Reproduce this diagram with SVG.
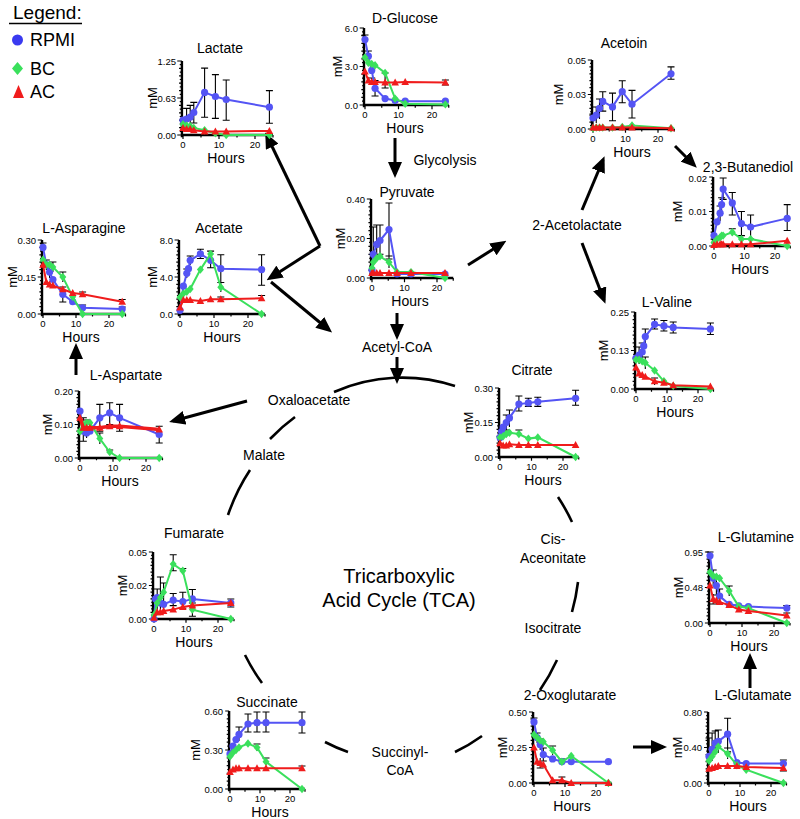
<svg xmlns="http://www.w3.org/2000/svg" xmlns:xlink="http://www.w3.org/1999/xlink" width="800" height="819" viewBox="0 0 800 819">
<style>
text{font-family:"Liberation Sans",Arial,sans-serif;fill:#000}
.t{font-size:14px;text-anchor:middle}
.n{font-size:9.5px;text-anchor:end}
.x{font-size:9.5px;text-anchor:middle}
.m{font-size:13px;text-anchor:middle}
.h{font-size:14px;text-anchor:middle}
.l{font-size:14px;text-anchor:middle}
.eb{fill:none;stroke:#000;stroke-width:1.1}
.b{fill:none;stroke:#5454f4;stroke-width:2;marker-start:url(#mb);marker-mid:url(#mb);marker-end:url(#mb)}
.g{fill:none;stroke:#3ae05c;stroke-width:2;marker-start:url(#mg);marker-mid:url(#mg);marker-end:url(#mg)}
.r{fill:none;stroke:#f01c1c;stroke-width:2;marker-start:url(#mr);marker-mid:url(#mr);marker-end:url(#mr)}
.ar{fill:none;stroke:#000;stroke-width:3;marker-end:url(#ah)}
.arc{fill:none;stroke:#000;stroke-width:2.6}
</style>
<defs>
<marker id="mb" viewBox="-5 -5 10 10" markerWidth="10" markerHeight="10" markerUnits="userSpaceOnUse" orient="0"><circle r="3.6" fill="#5454f4"/></marker>
<marker id="mg" viewBox="-5 -5 10 10" markerWidth="10" markerHeight="10" markerUnits="userSpaceOnUse" orient="0"><path d="M0,-4.2L3.5,0L0,4.2L-3.5,0Z" fill="#3ae05c"/></marker>
<marker id="mr" viewBox="-5 -5 10 10" markerWidth="10" markerHeight="10" markerUnits="userSpaceOnUse" orient="0"><path d="M0,-4L3.8,3L-3.8,3Z" fill="#f01c1c"/></marker>
<marker id="ah" viewBox="0 0 16 14" markerWidth="16" markerHeight="14" refX="12" refY="7" orient="auto" markerUnits="userSpaceOnUse"><path d="M0,0L16,7L0,14Z" fill="#000"/></marker>
<path id="axl" d="M-0.3,0.03V-1M-0.3,0H25" fill="none" stroke="#000" stroke-width="2.4" vector-effect="non-scaling-stroke"/>
<path id="axt" d="M-0.3,0H-1.6M-0.3,-0.5H-1.6M-0.3,-1H-1.6M-0.3,-0.1H-1.1M-0.3,-0.2H-1.1M-0.3,-0.3H-1.1M-0.3,-0.4H-1.1M-0.3,-0.6H-1.1M-0.3,-0.7H-1.1M-0.3,-0.8H-1.1M-0.3,-0.9H-1.1M-0.3,-0.05H-0.9M-0.3,-0.15H-0.9M-0.3,-0.25H-0.9M-0.3,-0.35H-0.9M-0.3,-0.45H-0.9M-0.3,-0.55H-0.9M-0.3,-0.65H-0.9M-0.3,-0.75H-0.9M-0.3,-0.85H-0.9M-0.3,-0.95H-0.9M0,0V0.055M10,0V0.055M20,0V0.055M5,0V0.035M15,0V0.035M25,0V0.035" fill="none" stroke="#000" stroke-width="1.2" vector-effect="non-scaling-stroke"/>
</defs>
<rect width="800" height="819" fill="#fff"/>

<g id="legend">
<text x="13" y="19" font-size="19">Legend:</text>
<line x1="9" y1="23.5" x2="82" y2="23.5" stroke="#000" stroke-width="1.6"/>
<circle cx="17.5" cy="40" r="5.5" fill="#3a3af0"/>
<text x="30" y="46" font-size="18">RPMI</text>
<path d="M17.5,62L23,68.5L17.5,75L12,68.5Z" fill="#3ae05c"/>
<text x="30" y="75" font-size="18">BC</text>
<path d="M18.5,85L24,98L13,98Z" fill="#f01c1c"/>
<text x="30" y="98" font-size="18">AC</text>
</g>

<g id="tca-cycle">
<path class="arc" d="M334,392A180,192 0 0 1 455,386"/>
<path class="arc" d="M558,497A180,192 0 0 1 572,522"/>
<path class="arc" d="M578,582A180,192 0 0 1 572,612"/>
<path class="arc" d="M557,660A180,192 0 0 1 540,690"/>
<path class="arc" d="M482,736A180,192 0 0 1 455,752"/>
<path class="arc" d="M348,752A180,192 0 0 1 325,742"/>
<path class="arc" d="M262,683A180,192 0 0 1 245,655"/>
<path class="arc" d="M228,515A180,192 0 0 1 250,470"/>
<path class="arc" d="M270,439A180,192 0 0 1 295,417"/>
<text x="399" y="583" font-size="20" text-anchor="middle">Tricarboxylic</text>
<text x="399" y="607" font-size="20" text-anchor="middle">Acid Cycle (TCA)</text>
</g>

<g id="labels">
<text class="l" x="445" y="165">Glycolysis</text>
<text class="l" x="397" y="352">Acetyl-CoA</text>
<text class="l" x="577" y="230">2-Acetolactate</text>
<text class="l" x="309" y="405">Oxaloacetate</text>
<text class="l" x="264" y="460">Malate</text>
<text class="l" x="553" y="544">Cis-</text>
<text class="l" x="553" y="563">Aceonitate</text>
<text class="l" x="553" y="633">Isocitrate</text>
<text class="l" x="400" y="757">Succinyl-</text>
<text class="l" x="400" y="775">CoA</text>
</g>

<g id="connectors">
<line class="ar" x1="395" y1="138" x2="395" y2="174"/>
<line class="ar" x1="397" y1="313" x2="397" y2="336"/>
<line class="ar" x1="397" y1="357" x2="397" y2="380"/>
<line class="ar" x1="468" y1="265" x2="503" y2="243"/>
<line class="ar" x1="582" y1="210" x2="603" y2="160"/>
<line class="ar" x1="675" y1="146" x2="694" y2="165"/>
<line class="ar" x1="582" y1="243" x2="604" y2="300"/>
<line class="ar" x1="320" y1="246" x2="267" y2="136"/>
<line class="ar" x1="320" y1="246" x2="270" y2="278"/>
<line class="ar" x1="271" y1="282" x2="329" y2="330"/>
<line class="ar" x1="247" y1="401" x2="173" y2="421"/>
<line class="ar" x1="76" y1="375" x2="76" y2="347"/>
<line class="ar" x1="633" y1="747" x2="663" y2="747"/>
<line class="ar" x1="750" y1="688" x2="750" y2="657"/>
</g>

<g id="lactate" transform="translate(183,135)">
<use href="#axl" transform="scale(3.6,74)"/><use href="#axt" transform="scale(3.6,74)"/>
<text class="t" x="37" y="-82">Lactate</text>
<text class="n" x="-7" y="3.5">0.00</text><text class="n" x="-7" y="-33.5">0.63</text><text class="n" x="-7" y="-70.5">1.25</text>
<text class="x" x="0" y="12.5">0</text><text class="x" x="36" y="12.5">10</text><text class="x" x="72" y="12.5">20</text>
<text class="m" transform="translate(-26.5,-37) rotate(-90)">mM</text>
<text class="h" x="43" y="28">Hours</text>
<path class="eb" d="M21.6,-17.8V-66.9M18.1,-66.9h7M18.1,-17.8h7M32.4,-16.6V-60.4M28.9,-60.4h7M28.9,-16.6h7M43.2,-14.8V-55M39.7,-55h7M39.7,-14.8h7M86.4,-11.8V-44.4M82.9,-44.4h7M82.9,-11.8h7M3.6,-8V-26.6M0.1,-26.6h7M0.1,-8h7M7.2,-8V-29.6M3.7,-29.6h7M10.8,-12V-32.6M7.3,-32.6h7M7.3,-12h7"/>
<polyline class="b" points="0,-14.8 3.6,-16 7.2,-17.8 10.8,-22.5 21.6,-42.6 32.4,-38.5 43.2,-35.5 86.4,-27.8"/>
<polyline class="g" points="0,-10.7 3.6,-9.5 7.2,-8.9 10.8,-7.1 21.6,-4.7 32.4,-1.8 43.2,0 86.4,0"/>
<polyline class="r" points="0,-7.1 3.6,-5.9 7.2,-5.9 10.8,-4.7 21.6,-3.6 32.4,-3.6 43.2,-3.6 86.4,-4.1"/>
</g>

<g id="d-glucose" transform="translate(365,105)">
<use href="#axl" transform="scale(3.35,77)"/><use href="#axt" transform="scale(3.35,77)"/>
<text class="t" x="40" y="-82">D-Glucose</text>
<text class="n" x="-7" y="3.5">0.0</text><text class="n" x="-7" y="-35">3.0</text><text class="n" x="-7" y="-73.5">6.0</text>
<text class="x" x="0" y="12.5">0</text><text class="x" x="33.5" y="12.5">10</text><text class="x" x="67" y="12.5">20</text>
<text class="m" transform="translate(-23.5,-38.5) rotate(-90)">mM</text>
<text class="h" x="40" y="28">Hours</text>
<path class="eb" d="M0,-61V-70M-3.5,-70h7M3.35,-43V-54M-0.15,-54h7M10.05,-9V-24.4M6.55,-24.4h7M6.55,-9h7M20.1,-17V-32M16.6,-32h7M16.6,-17h7M80.4,-20V-25M76.9,-25h7M76.9,-20h7M6.7,-20V-27M3.2,-27h7"/>
<polyline class="b" points="0,-65.4 3.35,-48.8 6.7,-34.6 10.05,-16.7 20.1,-6.4 30.15,-4.5 40.2,-3.8 80.4,-3.8"/>
<polyline class="g" points="0,-47.5 3.35,-42.3 6.7,-41.1 10.05,-39.8 20.1,-32.1 30.15,-6.4 40.2,-1.3 80.4,-0.6"/>
<polyline class="r" points="0,-33.4 3.35,-24.4 6.7,-23.1 10.05,-23.1 20.1,-22.5 30.15,-22.5 40.2,-23.1 80.4,-22.5"/>
</g>

<g id="acetoin" transform="translate(593,129)">
<use href="#axl" transform="scale(3.25,69)"/><use href="#axt" transform="scale(3.25,69)"/>
<text class="t" x="31" y="-81">Acetoin</text>
<text class="n" x="-7" y="3.5">0.00</text><text class="n" x="-7" y="-31">0.03</text><text class="n" x="-7" y="-65.5">0.05</text>
<text class="x" x="0" y="12.5">0</text><text class="x" x="32.5" y="12.5">10</text><text class="x" x="65" y="12.5">20</text>
<text class="m" transform="translate(-30.5,-34.5) rotate(-90)">mM</text>
<text class="h" x="39" y="28">Hours</text>
<path class="eb" d="M9.75,-17.9V-37.3M6.25,-37.3h7M6.25,-17.9h7M19.5,-8.3V-35.9M16,-35.9h7M16,-8.3h7M29.25,-26.2V-48.3M25.75,-48.3h7M25.75,-26.2h7M39,-11V-38.6M35.5,-38.6h7M35.5,-11h7M78,-49.7V-62.1M74.5,-62.1h7M74.5,-49.7h7M3.25,-6V-22M-0.25,-22h7M6.5,-10V-30M3,-30h7M0,-3V-15M-3.5,-15h7"/>
<polyline class="b" points="0,-11 3.25,-13.8 6.5,-20.7 9.75,-27.6 19.5,-22.1 29.25,-37.3 39,-24.8 78,-55.2"/>
<polyline class="g" points="0,-0.7 3.25,-1.4 6.5,-1.4 9.75,-1.4 19.5,-1.4 29.25,-2 39,-3.5 78,-0.7"/>
<polyline class="r" points="0,-1.4 3.25,-1.4 6.5,-1.4 9.75,-1.4 19.5,-1.4 29.25,-1.4 39,-1.4 78,-0.7"/>
</g>

<g id="butanediol" transform="translate(714,246)">
<use href="#axl" transform="scale(3.05,69)"/><use href="#axt" transform="scale(3.05,69)"/>
<text class="t" x="34" y="-74">2,3-Butanediol</text>
<text class="n" x="-7" y="3.5">0.00</text><text class="n" x="-7" y="-31">0.01</text><text class="n" x="-7" y="-64.5">0.02</text>
<text class="x" x="0" y="12.5">0</text><text class="x" x="30.5" y="12.5">10</text><text class="x" x="61" y="12.5">20</text>
<text class="m" transform="translate(-32.5,-34.5) rotate(-90)">mM</text>
<text class="h" x="36" y="28">Hours</text>
<path class="eb" d="M9.15,-46.6V-68M5.65,-68h7M5.65,-46.6h7M18.3,-31V-53.5M14.8,-53.5h7M14.8,-31h7M27.45,-10.4V-34.5M23.95,-34.5h7M23.95,-10.4h7M36.6,-6.9V-31M33.1,-31h7M33.1,-6.9h7M73.2,-15.5V-41.4M69.7,-41.4h7M69.7,-15.5h7M7.6,-34.5V-48.3M4.1,-48.3h7M6.1,-25V-40M2.6,-40h7M18.3,-10.4V-17.3M14.8,-17.3h7"/>
<polyline class="b" points="0,-10.4 3.05,-24.2 6.1,-32.8 7.6,-41.4 9.15,-56.9 18.3,-43.1 27.45,-22.4 36.6,-19 73.2,-27.6"/>
<polyline class="g" points="0,-3.5 3.05,-6.9 6.1,-8.6 7.6,-10.4 9.15,-10.4 18.3,-13.8 27.45,-6.9 36.6,-6.9 73.2,0"/>
<polyline class="r" points="0,-1 3.05,-1.7 6.1,-1.7 7.6,-1.7 9.15,-1.7 18.3,-1.7 27.45,-1.7 36.6,-1.7 73.2,-5.2"/>
</g>

<g id="l-asparagine" transform="translate(43,314)">
<use href="#axl" transform="scale(3.3,74)"/><use href="#axt" transform="scale(3.3,74)"/>
<text class="t" x="41" y="-81">L-Asparagine</text>
<text class="n" x="-7" y="3.5">0.00</text><text class="n" x="-7" y="-33.5">0.15</text><text class="n" x="-7" y="-70.5">0.30</text>
<text class="x" x="0" y="12.5">0</text><text class="x" x="33" y="12.5">10</text><text class="x" x="66" y="12.5">20</text>
<text class="m" transform="translate(-26.5,-37) rotate(-90)">mM</text>
<text class="h" x="38" y="28">Hours</text>
<path class="eb" d="M0,-62V-71M-3.5,-71h7M19.8,-12V-27M16.3,-27h7M16.3,-12h7M9.9,-42V-52M6.4,-52h7M19.8,-32V-42M16.3,-42h7M39.6,-3.5V-9M36.1,-9h7M39.6,-17V-22M36.1,-22h7M79.2,-10V-14.5M75.7,-14.5h7M79.2,-2.5V-7M75.7,-7h7M3.3,-44V-54M-0.2,-54h7M6.6,-36V-48M3.1,-48h7"/>
<polyline class="b" points="0,-66.6 3.3,-49.3 6.6,-41.9 9.9,-34.5 19.8,-19.7 29.7,-12.3 39.6,-6.2 79.2,-4.9"/>
<polyline class="g" points="0,-54.3 3.3,-49.3 6.6,-49.3 9.9,-46.9 19.8,-37 29.7,-17.3 39.6,0 79.2,0"/>
<polyline class="r" points="0,-49.3 3.3,-32.1 6.6,-29.6 9.9,-28.4 19.8,-24.7 29.7,-21 39.6,-19.7 79.2,-12.3"/>
</g>

<g id="acetate" transform="translate(180,314)">
<use href="#axl" transform="scale(3.4,74)"/><use href="#axt" transform="scale(3.4,74)"/>
<text class="t" x="39" y="-81">Acetate</text>
<text class="n" x="-7" y="3.5">0.0</text><text class="n" x="-7" y="-33.5">4.0</text><text class="n" x="-7" y="-70.5">8.0</text>
<text class="x" x="0" y="12.5">0</text><text class="x" x="34" y="12.5">10</text><text class="x" x="68" y="12.5">20</text>
<text class="m" transform="translate(-23.5,-37) rotate(-90)">mM</text>
<text class="h" x="42" y="28">Hours</text>
<path class="eb" d="M20.4,-55.5V-64.8M16.9,-64.8h7M16.9,-55.5h7M30.6,-46.3V-62.9M27.1,-62.9h7M27.1,-46.3h7M40.8,-31.5V-59.2M37.3,-59.2h7M37.3,-31.5h7M81.6,-28.7V-59.2M78.1,-59.2h7M78.1,-28.7h7M10.2,-49V-58M6.7,-58h7M6.8,-36V-45M3.3,-45h7M40.8,-22V-31M81.6,-13V-18.5M78.1,-18.5h7M40.8,-12.5V-17M37.3,-17h7"/>
<polyline class="b" points="0,-3.7 3.4,-27.8 6.8,-40.7 8.5,-45.3 10.2,-53.7 20.4,-60.1 30.6,-53.7 40.8,-45.3 81.6,-44.4"/>
<polyline class="g" points="0,-16.7 3.4,-20.4 6.8,-22.2 10.2,-25 20.4,-44.4 30.6,-60.1 40.8,-26.8 81.6,0"/>
<polyline class="r" points="0,-6.5 3.4,-13.9 6.8,-13.9 10.2,-13.9 20.4,-13 30.6,-14.8 40.8,-14.8 81.6,-15.7"/>
</g>

<g id="pyruvate" transform="translate(372,278)">
<use href="#axl" transform="scale(3.25,79)"/><use href="#axt" transform="scale(3.25,79)"/>
<text class="t" x="35" y="-81">Pyruvate</text>
<text class="n" x="-7" y="3.5">0.00</text><text class="n" x="-7" y="-36">0.20</text><text class="n" x="-7" y="-75.5">0.40</text>
<text class="x" x="0" y="12.5">0</text><text class="x" x="32.5" y="12.5">10</text><text class="x" x="65" y="12.5">20</text>
<text class="m" transform="translate(-27.5,-39.5) rotate(-90)">mM</text>
<text class="h" x="38" y="28">Hours</text>
<path class="eb" d="M17,-19V-75M13.5,-75h7M13.5,-19h7M8,-23.7V-53M4.5,-53h7M4.5,-23.7h7M4.7,-19.8V-53M1.2,-53h7M1.2,-19.8h7M1.3,-15.8V-51M-2.2,-51h7M17,-10V-22M13.5,-22h7"/>
<polyline class="b" points="0,-7.9 1.3,-23.7 4.7,-33.6 8,-37.5 17,-48.4 25,-4 39,-4 73,-4"/>
<polyline class="g" points="0,-9.9 1.3,-15.8 4.7,-19.8 8,-21.7 17,-15.8 25,-5.9 39,-5.9 73,0"/>
<polyline class="r" points="0,-4.9 1.3,-4.9 4.7,-4.9 8,-4.9 17,-4.9 25,-4.9 39,-4.9 73,-4.9"/>
</g>

<g id="l-valine" transform="translate(636,389)">
<use href="#axl" transform="scale(3.1,77)"/><use href="#axt" transform="scale(3.1,77)"/>
<text class="t" x="31" y="-82">L-Valine</text>
<text class="n" x="-7" y="3.5">0.00</text><text class="n" x="-7" y="-35">0.13</text><text class="n" x="-7" y="-73.5">0.25</text>
<text class="x" x="0" y="12.5">0</text><text class="x" x="31" y="12.5">10</text><text class="x" x="62" y="12.5">20</text>
<text class="m" transform="translate(-28.5,-38.5) rotate(-90)">mM</text>
<text class="h" x="39" y="28">Hours</text>
<path class="eb" d="M18.6,-60V-70M15.1,-70h7M15.1,-60h7M27.9,-58V-68.5M24.4,-68.5h7M24.4,-58h7M37.2,-56V-67M33.7,-67h7M33.7,-56h7M74.4,-54.5V-66M70.9,-66h7M70.9,-54.5h7M9.3,-45V-60M5.8,-60h7M6.2,-28V-46M2.7,-46h7M3.1,-25V-42M-0.4,-42h7M18.6,-4V-11M15.1,-11h7M9.3,-20V-32M5.8,-32h7"/>
<polyline class="b" points="0,-30.8 3.1,-33.9 6.2,-37 7.75,-43.1 9.3,-52.4 18.6,-64.7 27.9,-63.1 37.2,-61.6 74.4,-60.1"/>
<polyline class="g" points="0,-29.3 3.1,-29.3 6.2,-27.7 9.3,-26.2 18.6,-18.5 27.9,-7.7 37.2,-3.1 74.4,0"/>
<polyline class="r" points="0,-21.6 3.1,-15.4 6.2,-13.9 9.3,-12.3 18.6,-7.7 27.9,-6.2 37.2,-3.7 74.4,-2.5"/>
</g>

<g id="l-aspartate" transform="translate(80,458)">
<use href="#axl" transform="scale(3.3,67)"/><use href="#axt" transform="scale(3.3,67)"/>
<text class="t" x="46" y="-78">L-Aspartate</text>
<text class="n" x="-7" y="3.5">0.00</text><text class="n" x="-7" y="-30">0.10</text><text class="n" x="-7" y="-63.5">0.20</text>
<text class="x" x="0" y="12.5">0</text><text class="x" x="33" y="12.5">10</text><text class="x" x="66" y="12.5">20</text>
<text class="m" transform="translate(-28.5,-33.5) rotate(-90)">mM</text>
<text class="h" x="40" y="28">Hours</text>
<path class="eb" d="M19.8,-26.8V-53.6M16.3,-53.6h7M16.3,-26.8h7M29.7,-33.5V-55.3M26.2,-55.3h7M26.2,-33.5h7M39.6,-26.8V-53.6M36.1,-53.6h7M36.1,-26.8h7M79.2,-15V-31.8M75.7,-31.8h7M75.7,-15h7M3.3,-16.8V-40.2M-0.2,-40.2h7M-0.2,-16.8h7M6.6,-20V-38M3.1,-38h7M19.8,-14V-25M16.3,-25h7M29.7,-4V-8M26.2,-8h7"/>
<polyline class="b" points="0,-46.9 3.3,-26.8 6.6,-25.1 9.9,-26.8 19.8,-40.2 29.7,-45.2 39.6,-40.2 79.2,-23.5"/>
<polyline class="g" points="0,-26.8 3.3,-33.5 6.6,-35.2 9.9,-35.2 19.8,-19.4 29.7,-6 39.6,0 79.2,0"/>
<polyline class="r" style="stroke-width:3.5" points="0,-40.2 3.3,-30.2 6.6,-30.2 9.9,-30.2 19.8,-30.2 29.7,-31.8 39.6,-31.8 79.2,-28.5"/>
</g>

<g id="citrate" transform="translate(500,457)">
<use href="#axl" transform="scale(3.15,69)"/><use href="#axt" transform="scale(3.15,69)"/>
<text class="t" x="32" y="-82">Citrate</text>
<text class="n" x="-7" y="3.5">0.00</text><text class="n" x="-7" y="-31">0.15</text><text class="n" x="-7" y="-65.5">0.30</text>
<text class="x" x="0" y="12.5">0</text><text class="x" x="31.5" y="12.5">10</text><text class="x" x="63" y="12.5">20</text>
<text class="m" transform="translate(-27.5,-34.5) rotate(-90)">mM</text>
<text class="h" x="43" y="28">Hours</text>
<path class="eb" d="M18.9,-46V-61M15.4,-61h7M15.4,-46h7M28.35,-50.6V-58.7M24.85,-58.7h7M24.85,-50.6h7M37.8,-50.6V-59.8M34.3,-59.8h7M34.3,-50.6h7M75.6,-51.8V-66.7M72.1,-66.7h7M72.1,-51.8h7M6.3,-27V-42M2.8,-42h7M9.45,-30V-47M5.95,-47h7M6.3,-20V-27M2.8,-27h7M18.9,-20V-27M15.4,-27h7"/>
<polyline class="b" points="0,-19.6 1.6,-25.3 3.15,-29.9 6.3,-34.5 9.45,-39.1 18.9,-52.9 28.35,-54.1 37.8,-55.2 75.6,-58.7"/>
<polyline class="g" points="0,-19.6 3.15,-20.7 6.3,-23 9.45,-24.2 18.9,-23 28.35,-18.4 37.8,-19.6 75.6,0"/>
<polyline class="r" points="0,-13.8 3.15,-11.5 6.3,-11.5 9.45,-12.7 18.9,-12 28.35,-12 37.8,-12 75.6,-12"/>
</g>

<g id="fumarate" transform="translate(154,619)">
<use href="#axl" transform="scale(3.2,67)"/><use href="#axt" transform="scale(3.2,67)"/>
<text class="t" x="40" y="-81">Fumarate</text>
<text class="n" x="-7" y="3.5">0.00</text><text class="n" x="-7" y="-30">0.02</text><text class="n" x="-7" y="-63.5">0.05</text>
<text class="x" x="0" y="12.5">0</text><text class="x" x="32" y="12.5">10</text><text class="x" x="64" y="12.5">20</text>
<text class="m" transform="translate(-27.5,-33.5) rotate(-90)">mM</text>
<text class="h" x="40" y="28">Hours</text>
<path class="eb" d="M19.2,-13.4V-25.5M15.7,-25.5h7M15.7,-13.4h7M28.8,-10.7V-26.8M25.3,-26.8h7M25.3,-10.7h7M38.4,-13.4V-29.5M34.9,-29.5h7M34.9,-13.4h7M76.8,-12V-20M73.3,-20h7M73.3,-12h7M19.2,-48.2V-64.3M15.7,-64.3h7M15.7,-48.2h7M28.8,-46V-50.5M25.3,-50.5h7M38.4,-2.7V-16M34.9,-16h7M34.9,-2.7h7M3.2,-4V-30M-0.3,-30h7M6.4,-8V-42M2.9,-42h7M9.6,-10V-36M6.1,-36h7"/>
<polyline class="b" points="0,0 1.6,-20.1 3.2,-21.4 6.4,-16.1 9.6,-14.7 19.2,-18.8 28.8,-17.4 38.4,-20.1 76.8,-16.1"/>
<polyline class="g" points="0,-4 3.2,-16.1 6.4,-21.4 9.6,-26.8 19.2,-54.9 28.8,-48.2 38.4,-9.4 76.8,0"/>
<polyline class="r" points="0,-1.3 3.2,-6.7 6.4,-6.7 9.6,-8 19.2,-9.4 28.8,-12.1 38.4,-13.4 76.8,-16.1"/>
</g>

<g id="l-glutamine" transform="translate(710,623)">
<use href="#axl" transform="scale(3.2,71)"/><use href="#axt" transform="scale(3.2,71)"/>
<text class="t" x="46" y="-81">L-Glutamine</text>
<text class="n" x="-7" y="3.5">0.00</text><text class="n" x="-7" y="-32">0.48</text><text class="n" x="-7" y="-67.5">0.95</text>
<text class="x" x="0" y="12.5">0</text><text class="x" x="32" y="12.5">10</text><text class="x" x="64" y="12.5">20</text>
<text class="m" transform="translate(-27.5,-35.5) rotate(-90)">mM</text>
<text class="h" x="39" y="28">Hours</text>
<path class="eb" d="M0,-63V-71M-3.5,-71h7M3.2,-37V-53M-0.3,-53h7M6.4,-28V-47M2.9,-47h7M2.9,-28h7M9.6,-20V-34M6.1,-34h7M6.1,-20h7M19.2,-27V-37M15.7,-37h7M3.2,-19V-29M-0.3,-19h7M76.8,-12.5V-17.5M73.3,-17.5h7M76.8,-5V-10M73.3,-10h7"/>
<polyline class="b" points="0,-67.2 3.2,-44.8 6.4,-37.4 9.6,-26.9 19.2,-18.7 28.8,-17.2 38.4,-16.4 76.8,-14.9"/>
<polyline class="g" points="0,-50.8 3.2,-47.1 6.4,-46.3 9.6,-44.8 19.2,-32.1 28.8,-16.4 38.4,-14.9 76.8,0"/>
<polyline class="r" points="0,-37.4 3.2,-23.9 6.4,-22.4 9.6,-20.9 19.2,-17.9 28.8,-13.4 38.4,-12 76.8,-7.5"/>
</g>

<g id="succinate" transform="translate(230,789)">
<use href="#axl" transform="scale(3,78)"/><use href="#axt" transform="scale(3,78)"/>
<text class="t" x="37" y="-82">Succinate</text>
<text class="n" x="-7" y="3.5">0.00</text><text class="n" x="-7" y="-35.5">0.30</text><text class="n" x="-7" y="-74.5">0.60</text>
<text class="x" x="0" y="12.5">0</text><text class="x" x="30" y="12.5">10</text><text class="x" x="60" y="12.5">20</text>
<text class="m" transform="translate(-30,-39) rotate(-90)">mM</text>
<text class="h" x="40" y="28">Hours</text>
<path class="eb" d="M18,-57V-75M14.5,-75h7M14.5,-57h7M27,-57V-77M23.5,-77h7M23.5,-57h7M36,-57V-77M32.5,-77h7M32.5,-57h7M72,-56V-77M68.5,-77h7M68.5,-56h7M9,-48V-62M5.5,-62h7M36,-24V-31M32.5,-31h7M27,-38V-45M23.5,-45h7M72,-18V-23M68.5,-23h7"/>
<polyline class="b" points="0,-35.1 3,-42.9 6,-49.4 9,-54.6 18,-65 27,-66.3 36,-66.3 72,-66.3"/>
<polyline class="g" points="0,-32.5 3,-36.4 6,-39 9,-41.6 18,-45.5 27,-41.6 36,-27.3 72,0"/>
<polyline class="r" points="0,-16.9 3,-19.5 6,-20.8 9,-20.8 18,-20.8 27,-20.8 36,-20.8 72,-20.8"/>
</g>

<g id="oxoglutarate" transform="translate(534,783)">
<use href="#axl" transform="scale(3.1,71)"/><use href="#axt" transform="scale(3.1,71)"/>
<text class="t" x="36" y="-83">2-Oxoglutarate</text>
<text class="n" x="-7" y="3.5">0.00</text><text class="n" x="-7" y="-32">0.25</text><text class="n" x="-7" y="-67.5">0.50</text>
<text class="x" x="0" y="12.5">0</text><text class="x" x="31" y="12.5">10</text><text class="x" x="62" y="12.5">20</text>
<text class="m" transform="translate(-27.5,-35.5) rotate(-90)">mM</text>
<text class="h" x="38" y="28">Hours</text>
<path class="eb" d="M0,-57V-65M-3.5,-65h7M3.1,-40V-50M-0.4,-50h7M6.2,-33V-44M2.7,-44h7M9.3,-22V-35M5.8,-35h7M5.8,-22h7M18.6,-28V-37M15.1,-37h7M27.9,-18V-24M24.4,-24h7M27.9,-1V-6M24.4,-6h7M6.2,-15V-25M2.7,-15h7"/>
<polyline class="b" points="0,-61.1 3.1,-45.4 6.2,-38.3 9.3,-28.4 18.6,-24.1 27.9,-21.3 37.2,-21.3 74.4,-21.3"/>
<polyline class="g" points="0,-48.3 3.1,-45.4 6.2,-42.6 9.3,-41.2 18.6,-32.7 27.9,-21.3 37.2,-27 74.4,0"/>
<polyline class="r" points="0,-35.5 3.1,-21.3 6.2,-19.9 9.3,-18.5 18.6,-2.8 27.9,-2.8 37.2,0 74.4,0"/>
</g>

<g id="l-glutamate" transform="translate(709,783)">
<use href="#axl" transform="scale(3.1,71)"/><use href="#axt" transform="scale(3.1,71)"/>
<text class="t" x="44" y="-83">L-Glutamate</text>
<text class="n" x="-7" y="3.5">0.00</text><text class="n" x="-7" y="-32">0.40</text><text class="n" x="-7" y="-67.5">0.80</text>
<text class="x" x="0" y="12.5">0</text><text class="x" x="31" y="12.5">10</text><text class="x" x="62" y="12.5">20</text>
<text class="m" transform="translate(-27.5,-35.5) rotate(-90)">mM</text>
<text class="h" x="39" y="28">Hours</text>
<path class="eb" d="M18.6,-31.1V-64.8M15.1,-64.8h7M15.1,-31.1h7M3.1,-22V-50M-0.4,-50h7M6.2,-28V-52M2.7,-52h7M9.3,-30V-53M5.8,-53h7M0,-18V-45M-3.5,-45h7M18.6,-24V-35M15.1,-35h7M74.4,-16V-23M70.9,-23h7M74.4,-12V-19M70.9,-12h7"/>
<polyline class="b" points="0,-26.6 3.1,-33.7 6.2,-39.9 9.3,-41.7 18.6,-48.8 27.9,-20.4 37.2,-19.5 74.4,-19.5"/>
<polyline class="g" points="0,-22.2 3.1,-26.6 6.2,-31.1 9.3,-36.4 18.6,-29.3 27.9,-17.8 37.2,-13.3 74.4,0"/>
<polyline class="r" points="0,-14.2 3.1,-15.1 6.2,-16 9.3,-16.9 18.6,-16.9 27.9,-16.9 37.2,-16 74.4,-15.1"/>
</g>
</svg>
